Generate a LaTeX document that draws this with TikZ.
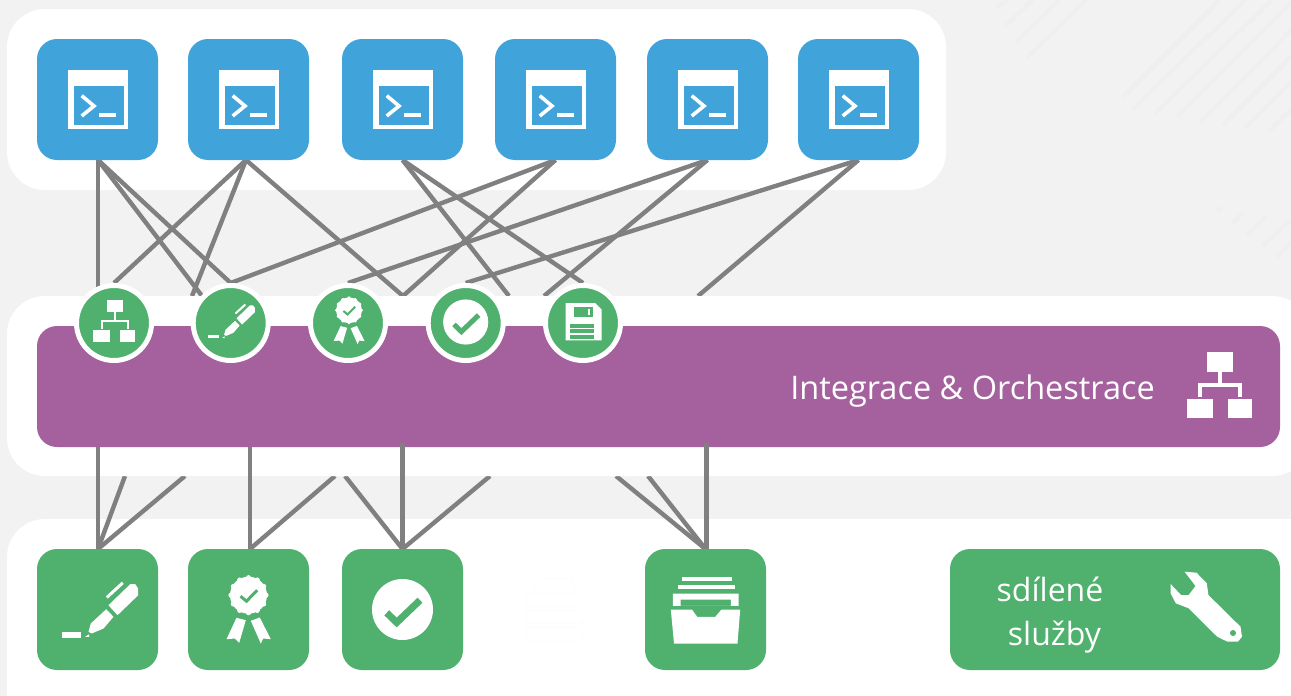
\documentclass[tikz,border=0pt]{standalone}
\usepackage{fontspec}
\setmainfont{Open Sans}
\pgfdeclarelayer{backlayer}
\pgfdeclarelayer{linelayer}
\pgfdeclarelayer{barlayer}
\pgfsetlayers{backlayer,linelayer,barlayer,main}
\definecolor{bgc}{HTML}{F2F2F2}
\definecolor{stripec}{HTML}{EFEFEF}
\definecolor{ghostc}{HTML}{FDFDFD}
\definecolor{bluec}{HTML}{40A4DA}
\definecolor{greenc}{HTML}{50B06E}
\definecolor{purplec}{HTML}{A4619E}
\definecolor{linec}{HTML}{808080}
\tikzset{
  x=1pt,y=-1pt,
  panel/.style={fill=white,draw=none,rounded corners=38pt},
  tile/.style={fill=#1,draw=none,rounded corners=20pt,minimum width=121pt,minimum height=121pt,inner sep=0pt,outer sep=0pt},
  badge/.style={circle,fill=greenc,draw=white,line width=5pt,minimum size=75pt,inner sep=0pt},
  wire/.style={draw=linec,line width=4.4pt},
  stripe/.style={draw=stripec,line width=4pt},
  lbl/.style={text=white,font=\fontsize{32.5}{44}\selectfont,align=center,inner sep=0pt},
  lblsmall/.style={text=white,font=\fontsize{32}{44}\selectfont,align=center,inner sep=0pt},
  pics/termicon/.style={code={
    \fill[white] (-29.5,-29.5) rectangle (30.5,29);
    \fill[bluec] (-23.5,-13.5) rectangle (26.5,25.5);
    \draw[white,line width=3.6pt] (-15.8,-3.8) -- (-3.5,6.5) -- (-15.8,16.5);
    \draw[white,line width=3.4pt] (1.5,15.5) -- (18.2,15.5);
  }},
  pics/neticon/.style={code={
    \fill[white] (-12.2,-32.7) rectangle (13.2,-13.3);
    \draw[white,line width=#1] (0.5,-13.3) -- (0.5,0) (-19.5,11.7) -- (-19.5,0) -- (20.5,0) -- (20.5,11.7);
    \fill[white] (-32.5,14.3) rectangle (-6.2,32.7);
    \fill[white] (8.2,14.3) rectangle (32.2,32.7);
  }},
  pics/penicon/.style={code={
    \fill[white] (11,-4.3) -- (32.7,-25.3) -- (37.7,-25.3) -- (40.7,-21) -- (40.7,-14.3) -- (20,5.7) -- cycle;
    \draw[white,line width=#1] (9.3,-12) -- (25.3,-26.7);
    \fill[white] (8.7,-.3) -- (16,7.3) -- (6,19) -- (-5.7,24) -- (-9,22.3) -- (-6.7,14) -- cycle;
    \fill[white] (-12.3,27.3) -- (-8.3,24.7) -- (-8.3,27.5) -- cycle;
    \fill[white] (-35.3,22.7) rectangle (-16.7,28);
  }},
  pics/rosetteicon/.style={code={
    \fill[white] (0,-14.3) circle[radius=18.5];
    \foreach \a in {0,30,...,330}{\fill[white] ($(0,-14.3)+(\a:17.5)$) circle[radius=2.6];}
    \draw[greenc,line width=#1] (-8,-13.3) -- (-2,-8.3) -- (8.7,-19.3);
    \fill[white] (-12,8.3) -- (-2.7,10.7) -- (-9.3,33.3) -- (-13.7,29) -- (-22,29.7) -- cycle;
    \fill[white] (2.3,11.3) -- (11.3,8) -- (22.3,29.7) -- (14.7,29) -- (12.3,34) -- cycle;
  }},
  pics/checkicon/.style={code={
    \fill[white] (0,0) circle[radius=30.5];
    \draw[greenc,line width=#1] (-15.8,3.3) -- (-5.8,13) -- (17.5,-9.3);
  }},
  pics/trayicon/.style={code={
    \fill[white] (-23.8,-32.7) rectangle (26.4,-28.3);
    \fill[white] (-28,-24.7) rectangle (29,-20.3);
    \fill[white,even odd rule] (-32.6,-16) rectangle (33,-3.7) (-24.8,-10) rectangle (25.3,-3.7);
    \fill[white] (-34.7,0) -- (-13.5,0) -- (-8.3,7.3) -- (9.8,7.3) -- (16,0) -- (34.7,0) -- (32,34) -- (-31.5,34) -- cycle;
  }},
  pics/floppyicon/.style={code={
    \fill[white] (-17.3,-20) -- (12,-20) -- (18.7,-13.3) -- (18.7,17.3) -- (-17.3,17.3) -- cycle;
    \fill[greenc] (-9,-16) rectangle (10.3,-5.7);
    \fill[white] (4.7,-14.3) rectangle (7,-7.7);
    \fill[greenc] (-13,.7) rectangle (11,15.7);
    \fill[white] (-13,4.6) rectangle (11,6.4);
    \fill[white] (-13,9.8) rectangle (11,11.6);
  }},
}
\usetikzlibrary{calc}
\begin{document}
\begin{tikzpicture}
\useasboundingbox (0,0) rectangle (1291,696);

% bottom-most: background, stripes, outer panels
\begin{pgfonlayer}{backlayer}
  \clip (0,0) rectangle (1291,696);
  \fill[bgc] (0,0) rectangle (1291,696);
  \foreach \xa/\ya/\xb/\yb in {
    997/7/1008/0, 1006/25/1033/0, 1016/42/1060/0, 1027/57/1087/0,
    1123/97/1220/0, 1132/110/1245/0, 1155/113/1272/0, 1177/117/1291/3,
    1200/122/1291/30, 1223/125/1291/57, 1245/128/1291/82, 1268/132/1291/110,
    1217/211/1222/208, 1232/223/1243/213, 1247/235/1266/217, 1262/246/1291/220, 1277/257/1291/243}
    {\draw[stripe] (\xa,\ya) -- (\xb,\yb);}
  \fill[panel] (7,9) rectangle (946,190);
  \fill[panel] (7,519) rectangle (1330,740);
  % the faint ghost table on the bottom panel
  \draw[ghostc,line width=1pt] (534,590) -- (537,578) -- (570,578) -- (576,590)
    (526,593) rectangle (582,606) (526,610) rectangle (582,623) (526,627) rectangle (582,640);
\end{pgfonlayer}

% middle panel and bar
\begin{pgfonlayer}{barlayer}
  \fill[panel] (7,296) rectangle (1310,476);
\end{pgfonlayer}

% source tiles
\foreach \n/\cx in {1/97.5,2/248.5,3/402.5,4/555.5,5/707.5,6/858.5}{
  \node[tile=bluec] (b\n) at (\cx,99.5) {};
  \pic at (b\n.center) {termicon};
}

% bar
\node[tile=purplec,minimum width=1243pt] (bar) at (658.5,386.5) {};
\node[lbl,anchor=base east] (bartext) at (1155,399) {Integrace \& Orchestrace};
\pic at (1219.5,385) {neticon=3.5pt};

% badges
\node[badge] (c1) at (114,323) {};
\node[badge] (c2) at (230.7,323) {};
\node[badge] (c3) at (348,323) {};
\node[badge] (c4) at (465.7,323) {};
\node[badge] (c5) at (583,323) {};
\pic[scale=.65] at ($(c1)+(.5,-2)$) {neticon=1.6pt};
\pic[scale=.62] at ($(c2)+(-1,-2)$) {penicon=2pt};
\pic[scale=.7] at ($(c3)+(1,-2.7)$) {rosetteicon=2pt};
\pic[scale=.74] at ($(c4)+(0,-1)$) {checkicon=5pt};
\pic at (c5) {floppyicon};

% bottom tiles
\node[tile=greenc] (g1) at (97.5,609.5) {};
\node[tile=greenc] (g2) at (248.5,609.5) {};
\node[tile=greenc] (g3) at (402.5,609.5) {};
\node[tile=greenc] (g4) at (705.5,609.5) {};
\node[tile=greenc,minimum width=330pt] (g5) at (1115,609.5) {};
\pic at (g1) {penicon=3pt};
\pic at (g2) {rosetteicon=3pt};
\pic at (g3) {checkicon=7pt};
\pic at (g4) {trayicon};
\node[lblsmall] (shared) at (1050,615) {sdílené\\\hspace*{9pt}služby};
\fill[white] (1184.6,571.7) -- (1196.5,572.7) -- (1206.8,583.3) -- (1208.4,595) -- (1240.5,626.7) -- (1242,636.7) -- (1237.9,641.7) -- (1227.5,641.7) -- (1217.2,636.7) -- (1188.7,608.3) -- (1175.8,603.3) -- (1170.6,593.3) -- (1170.6,584) -- (1181,595) -- (1188.7,595) -- (1195.5,586) -- cycle;
\fill[greenc] (1233,633) circle[radius=3];

% hidden ends of the connectors, under the middle panel
\coordinate (u1) at (98,300);
\coordinate (u2) at (202,296);
\coordinate (u3) at (192,296);
\coordinate (u4) at (403,296);
\coordinate (u5) at (509,296);
\coordinate (u6) at (544,296);
\coordinate (u7) at (698,296);
\coordinate (d1) at (125,476);
\coordinate (d2) at (185,476);
\coordinate (d3) at (335,476);
\coordinate (d4) at (345,476);
\coordinate (d5) at (490,476);
\coordinate (d6) at (616,476);
\coordinate (d7) at (648,476);
\coordinate (e1) at (98,447);
\coordinate (e2) at (250,447);
\coordinate (e3) at (402.5,443);
\coordinate (e4) at (706.5,443);

\begin{pgfonlayer}{linelayer}
  \draw[wire] ([xshift=.5pt]b1.south) -- (u1);
  \draw[wire] ([xshift=.5pt]b1.south) -- (u2);
  \draw[wire] ([xshift=.5pt]b1.south) -- (c2.north);
  \draw[wire] ([xshift=-2.5pt]b2.south) -- (c1.north);
  \draw[wire] ([xshift=-2.5pt]b2.south) -- (u3);
  \draw[wire] ([xshift=-2.5pt]b2.south) -- (u4);
  \draw[wire] (b3.south) -- (u5);
  \draw[wire] (b3.south) -- (c5.north);
  \draw[wire] (b4.south) -- (c2.north);
  \draw[wire] (b4.south) -- (u4);
  \draw[wire] (b5.south) -- (c3.north);
  \draw[wire] (b5.south) -- (u6);
  \draw[wire] (b6.south) -- (c4.north);
  \draw[wire] (b6.south) -- (u7);
  \draw[wire] ([xshift=.5pt]g1.north) -- (d1);
  \draw[wire] ([xshift=.5pt]g1.north) -- (d2);
  \draw[wire] ([xshift=1.5pt]g2.north) -- (d3);
  \draw[wire] (g3.north) -- (d4);
  \draw[wire] (g3.north) -- (d5);
  \draw[wire] (g4.north) -- (d6);
  \draw[wire] (g4.north) -- (d7);
\end{pgfonlayer}

% uprights that run over the middle panel
\draw[wire] ([xshift=.5pt]g1.north) -- (e1);
\draw[wire] ([xshift=1.5pt]g2.north) -- (e2);
\draw[wire] (g3.north) -- (e3);
\draw[wire] ([xshift=1pt]g4.north) -- (e4);
\end{tikzpicture}
\end{document}
